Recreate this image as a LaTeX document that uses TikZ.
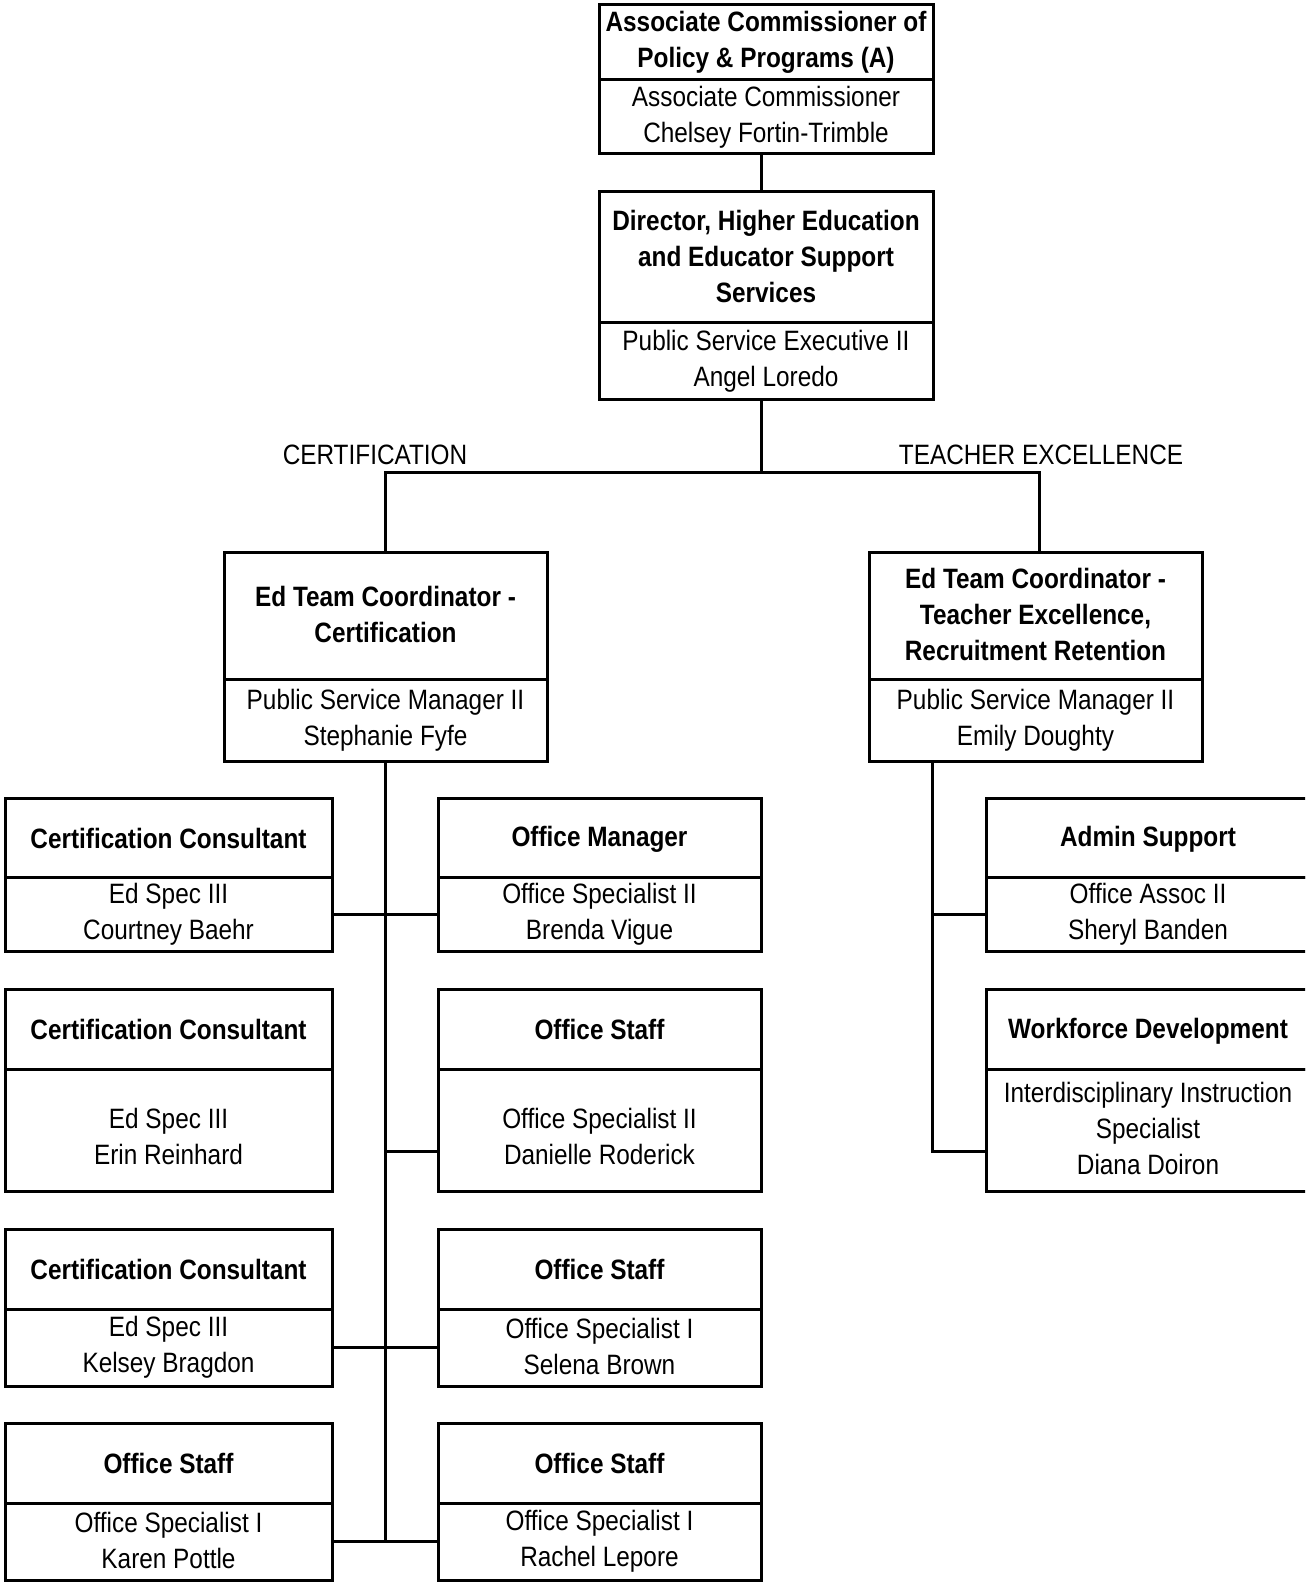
\documentclass[tikz,border=0pt]{standalone}
\usepackage{fontspec}
\setmainfont[FakeStretch=0.87]{Liberation Sans}
\usetikzlibrary{positioning}
\newcommand{\boxstrut}{\rule[-1.5pt]{0pt}{13.5pt}}

\begin{document}
\begin{tikzpicture}[x=0.5pt, y=-0.5pt]
			% Define styles for the boxes and headings
			\tikzstyle{titlebox} = [draw, line width=1.5pt, outer sep=0pt, inner sep=0pt, align=center, anchor=north west, font=\fontsize{14}{18}\selectfont\bfseries, execute at begin node=\boxstrut, execute at end node=\boxstrut]
			\tikzstyle{infobox} = [draw, line width=1.5pt, outer sep=0pt, inner sep=0pt, align=center, font=\fontsize{14}{18}\selectfont, execute at begin node=\boxstrut, execute at end node=\boxstrut]
			\tikzstyle{heading} = [font=\fontsize{14}{18}\selectfont]
			\tikzstyle{wire} = [line width=1.5pt]

			\useasboundingbox (0,0) rectangle (1305,1583);
			\clip (0,0) rectangle (1305,1583);

			% Define the top boxes
			\node[titlebox, minimum width=167pt, minimum height=37.5pt] (assoc) at (599,5) {Associate Commissioner of\\Policy \& Programs (A)};
			\node[infobox, minimum width=167pt, minimum height=37pt, below=0pt of assoc] (assoc-info) {Associate Commissioner\\Chelsey Fortin-Trimble};

			\node[titlebox, minimum width=167pt, minimum height=65.5pt] (dir) at (599,192) {Director, Higher Education\\and Educator Support\\Services};
			\node[infobox, minimum width=167pt, minimum height=38pt, below=0pt of dir] (dir-info) {Public Service Executive II\\Angel Loredo};

			% Define the coordinators
			\node[titlebox, minimum width=161.5pt, minimum height=63.5pt] (certco) at (224,552) {Ed Team Coordinator -\\Certification};
			\node[infobox, minimum width=161.5pt, minimum height=41pt, below=0pt of certco] (certco-info) {Public Service Manager II\\Stephanie Fyfe};

			\node[titlebox, minimum width=166.5pt, minimum height=63.5pt] (teachco) at (869,552) {Ed Team Coordinator -\\Teacher Excellence,\\Recruitment Retention};
			\node[infobox, minimum width=166.5pt, minimum height=41pt, below=0pt of teachco] (teachco-info) {Public Service Manager II\\Emily Doughty};

			% Define the certification staff, left column
			\node[titlebox, minimum width=163.5pt, minimum height=39.5pt] (cc1) at (5,798) {Certification Consultant};
			\node[infobox, minimum width=163.5pt, minimum height=37pt, below=0pt of cc1] (cc1-info) {Ed Spec III\\Courtney Baehr};

			\node[titlebox, minimum width=163.5pt, minimum height=40pt] (cc2) at (5,989) {Certification Consultant};
			\node[infobox, minimum width=163.5pt, minimum height=61pt, below=0pt of cc2] (cc2-info) {\mbox{}\\Ed Spec III\\Erin Reinhard};

			\node[titlebox, minimum width=163.5pt, minimum height=40pt] (cc3) at (5,1229) {Certification Consultant};
			\node[infobox, minimum width=163.5pt, minimum height=38.5pt, below=0pt of cc3] (cc3-info) {Ed Spec III\\Kelsey Bragdon};

			\node[titlebox, minimum width=163.5pt, minimum height=40pt] (os4) at (5,1423) {Office Staff};
			\node[infobox, minimum width=163.5pt, minimum height=38.5pt, below=0pt of os4] (os4-info) {Office Specialist I\\Karen Pottle};

			% Define the certification staff, right column
			\node[titlebox, minimum width=161.5pt, minimum height=39.5pt] (om) at (438,798) {Office Manager};
			\node[infobox, minimum width=161.5pt, minimum height=37pt, below=0pt of om] (om-info) {Office Specialist II\\Brenda Vigue};

			\node[titlebox, minimum width=161.5pt, minimum height=40pt] (os1) at (438,989) {Office Staff};
			\node[infobox, minimum width=161.5pt, minimum height=61pt, below=0pt of os1] (os1-info) {\mbox{}\\Office Specialist II\\Danielle Roderick};

			\node[titlebox, minimum width=161.5pt, minimum height=40pt] (os2) at (438,1229) {Office Staff};
			\node[infobox, minimum width=161.5pt, minimum height=38.5pt, below=0pt of os2] (os2-info) {Office Specialist I\\Selena Brown};

			\node[titlebox, minimum width=161.5pt, minimum height=40pt] (os3) at (438,1423) {Office Staff};
			\node[infobox, minimum width=161.5pt, minimum height=38.5pt, below=0pt of os3] (os3-info) {Office Specialist I\\Rachel Lepore};

			% Define the teacher excellence staff
			\node[titlebox, minimum width=162pt, minimum height=39.5pt] (admin) at (986,798) {Admin Support};
			\node[infobox, minimum width=162pt, minimum height=37pt, below=0pt of admin] (admin-info) {Office Assoc II\\Sheryl Banden};

			\node[titlebox, minimum width=162pt, minimum height=40pt] (wf) at (986,989) {Workforce Development};
			\node[infobox, minimum width=162pt, minimum height=61pt, below=0pt of wf] (wf-info) {Interdisciplinary Instruction\\Specialist\\Diana Doiron};

			% Place the headings
			\node[heading] (certlabel) at (375,455) {CERTIFICATION};
			\node[heading] (teachlabel) at (1041,455) {TEACHER EXCELLENCE};

			% Draw the edges at the top
			\coordinate (split) at (761,472);
			\draw[wire] ([xshift=-2.5pt]assoc-info.south) -- ([xshift=-2.5pt]dir.north);
			\draw[wire] ([xshift=-2.5pt]dir-info.south) -- (split);
			\draw[wire] (certco.north) |- (split) -| ([xshift=2pt]teachco.north);

			% Draw the edges for the certification team
			\coordinate (ltrunk) at (certco-info.south);
			\draw[wire] (ltrunk) -- (ltrunk |- os4-info.east);
			\draw[wire] (cc1-info.east) -- (om-info.west);
			\draw[wire] (ltrunk |- os1-info.west) ++(0,21) -- ([yshift=-10.5pt]os1-info.west);
			\draw[wire] (cc3-info.east) -- (os2-info.west);
			\draw[wire] (os4-info.east) -- (os3-info.west);

			% Draw the edges for the teacher excellence team
			\coordinate (rtrunk) at ([xshift=31.5pt]teachco-info.south west);
			\draw[wire] (rtrunk) |- ([yshift=-10.5pt]wf-info.west);
			\draw[wire] (rtrunk |- admin-info.west) -- (admin-info.west);

		\end{tikzpicture}
\end{document}
